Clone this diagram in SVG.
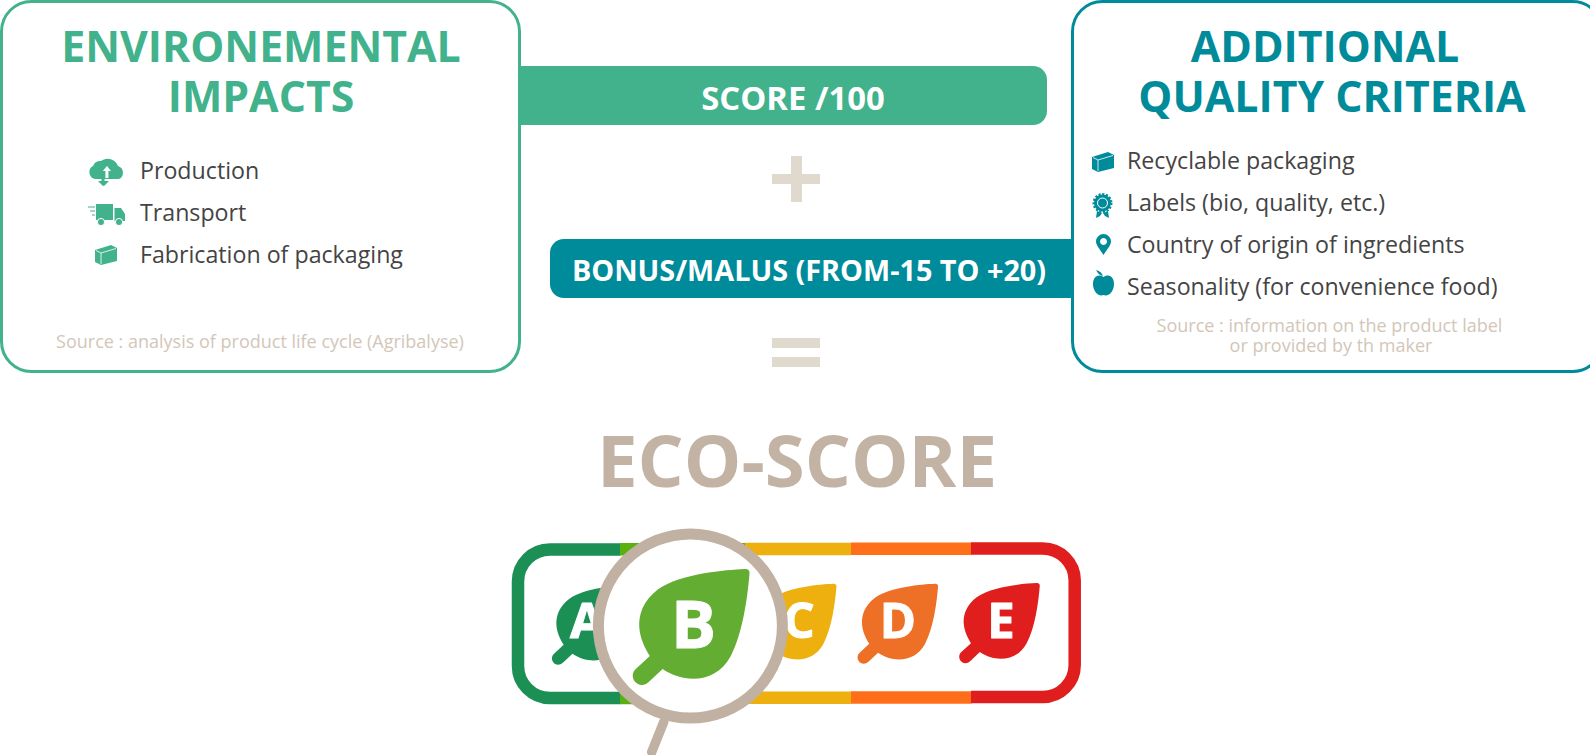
<svg xmlns="http://www.w3.org/2000/svg" width="1590" height="755" viewBox="0 0 1590 755">
<style>
text{font-family:"Open Sans","Liberation Sans",sans-serif}
.t{font-size:42.800px;font-weight:700;text-anchor:middle}
.g{fill:#41b28b}.b{fill:#008b9b}
.l{font-size:23.200px;fill:#444}
.s{font-size:18px;fill:#d3c6b9;text-anchor:middle}
.bar{font-weight:700;fill:#fff;text-anchor:middle}
.k{fill:#e0d9cd}
.seg{fill:none;stroke-width:12.500}
.ltr{font-weight:700;fill:#fff;stroke:#fff;stroke-width:1;stroke-linejoin:round;text-anchor:middle}
</style>
<defs>
<path id="leaf" d="M650 147C600 150 480 160 420 208C380 242 368 285 370 322C372 355 385 385 398 408L360 448C345 465 355 492 375 495C385 495 392 490 398 483L432 447C455 465 485 476 512 476C555 476 590 455 612 410C645 340 658 230 663 158C663 150 658 146 650 147Z"/>
<g id="box"><path d="M0 5L16 0L22 3V16L6 20L0 17Z"/><path d="M1 5.500L6 8V19M6 8L21 3.500" fill="none" stroke="#fff" stroke-width=".8"/></g>
</defs>
<g id="connectors">
<path d="M520 66H1033a14 14 0 0 1 14 14V111a14 14 0 0 1 -14 14H520Z" fill="#41b28b"/>
<path d="M1072 239H564a14 14 0 0 0 -14 14V284a14 14 0 0 0 14 14H1072Z" fill="#008b9b"/>
</g>
<g id="score-bar"><text class="bar" x="793" y="110" font-size="32.800">SCORE /100</text></g>
<g id="bonus-bar"><text class="bar" x="809" y="280.500" font-size="28.800">BONUS/MALUS (FROM-15 TO +20)</text></g>
<g id="environmental-impacts">
<rect x="1.500" y="1.500" width="518" height="370" rx="30" fill="#fff" stroke="#41b28b" stroke-width="3"/>
<text class="t g" x="261" y="62">ENVIRONEMENTAL</text>
<text class="t g" x="261" y="112">IMPACTS</text>
<g class="g">
<path d="M96 182a7 7 0 0 1 -2 -13a8 8 0 0 1 8 -5a11 11 0 0 1 17 5a7 7 0 0 1 1 13Z M100 184H110L105 189Z" transform="translate(-1,-3)"/>
<path d="M107 166l4 5h-2.600v7h-3v-7h-2.600Z" fill="#fff"/>
<path d="M104.500 173v8h3.500l-5 5l-5 -5h3.500v-8Z"/>
<rect x="96" y="204" width="17" height="16"/>
<path d="M114.500 208H121L125 214V221H114.500Z"/>
<circle cx="101" cy="222" r="3.600" stroke="#fff"/><circle cx="119" cy="222" r="3.600" stroke="#fff"/>
<path d="M88 207H95M90 211H95M92 215H95" stroke="#41b28b" fill="none" stroke-width="1.200"/>
<use href="#box" transform="translate(95,245)"/>
</g>
<text class="l" x="140" y="178.500">Production</text>
<text class="l" x="140" y="221">Transport</text>
<text class="l" x="140" y="262.500">Fabrication of packaging</text>
<text class="s" x="260" y="348">Source : analysis of product life cycle (Agribalyse)</text>
</g>
<g id="additional-quality-criteria">
<rect x="1072.500" y="1.500" width="530" height="370" rx="30" fill="#fff" stroke="#008b9b" stroke-width="3"/>
<text class="t b" x="1325" y="62">ADDITIONAL</text>
<text class="t b" x="1332" y="112">QUALITY CRITERIA</text>
<g class="b">
<use href="#box" transform="translate(1092,152)"/>
<circle cx="1102.500" cy="203" r="8.500" stroke="#008b9b" stroke-width="3" stroke-dasharray="2 1.600"/>
<circle cx="1102.500" cy="203" r="5" fill="none" stroke="#fff" stroke-width="1"/>
<path d="M1097 211L1096 218L1100 216L1102 213ZM1108 211L1109 218L1105 216L1103 213Z"/>
<path fill-rule="evenodd" d="M1103.500 255C1099 248 1096 245 1096 241.500a7.500 7.500 0 0 1 15 0C1111 245 1108 248 1103.500 255ZM1103.500 238a3.500 3.500 0 1 0 0.010 0Z"/>
<path d="M1103.500 277C1097 273 1093 278 1093 284C1093 291 1098 297 1103.500 295C1109 297 1114 291 1114 284C1114 278 1110 273 1103.500 277Z"/>
<path d="M1103 276C1102 273 1100 271 1096 270C1098 274 1100 275 1103 276Z"/>
</g>
<text class="l" x="1127" y="169">Recyclable packaging</text>
<text class="l" x="1127" y="211">Labels (bio, quality, etc.)</text>
<text class="l" x="1127" y="253">Country of origin of ingredients</text>
<text class="l" x="1127" y="294.500">Seasonality (for convenience food)</text>
<text class="s" x="1329.500" y="331.500">Source : information on the product label</text>
<text class="s" x="1331" y="352">or provided by th maker</text>
</g>
<g id="plus"><path class="k" d="M791 156H802V174H820V184H802V202H791V184H772V174H791Z"/></g>
<g id="equals"><rect class="k" x="772" y="338" width="48" height="10"/><rect class="k" x="772" y="357" width="48" height="10"/></g>
<g id="eco-score"><text x="797" y="487" style="font-size:72.500px;font-weight:700;fill:#c3b3a4;text-anchor:middle">ECO-SCORE</text></g>
<g id="score-logo">
<path class="seg" stroke="#1b8f54" d="M620.500 549.500H550a32 32 0 0 0 -32 32V666a32 32 0 0 0 32 32H620.500"/>
<path class="seg" stroke="#5ab00f" d="M620 549.300H746M620 698H746"/>
<path class="seg" stroke="#eeb00e" d="M745 549H851M745 697.800H851"/>
<path class="seg" stroke="#ff6f1a" d="M851 548.800H971.500M851 697.500H971.500"/>
<path class="seg" stroke="#e01e1e" d="M971 548.500H1042.700a32 32 0 0 1 32 32V665a32 32 0 0 1 -32 32H971"/>
<use href="#leaf" fill="#1b8f54" transform="translate(460.300,551) scale(.2597,.23)"/>
<use href="#leaf" fill="#eeb00e" transform="translate(664.300,550) scale(.2597,.23)"/>
<use href="#leaf" fill="#ee7027" transform="translate(765.900,550) scale(.2597,.23)"/>
<use href="#leaf" fill="#e01e1e" transform="translate(867.600,549.300) scale(.2597,.23)"/>
<text class="ltr" x="587" y="638" font-size="49">A</text>
<text class="ltr" x="799" y="638" font-size="49">C</text>
<text class="ltr" x="898" y="638" font-size="49">D</text>
<text class="ltr" x="1001" y="638" font-size="49">E</text>
</g>
<g id="magnifier">
<path d="M663.700 722L651.700 752" stroke="#c1b1a3" stroke-width="9.500" stroke-linecap="round" fill="none"/>
<circle cx="690.400" cy="626" r="92" fill="#fff" stroke="#c1b1a3" stroke-width="11"/>
<use href="#leaf" fill="#62ad32" transform="translate(500,520) scale(.3764,.3333)"/>
<text class="ltr" x="693.500" y="648" font-size="67">B</text>
</g>
</svg>
